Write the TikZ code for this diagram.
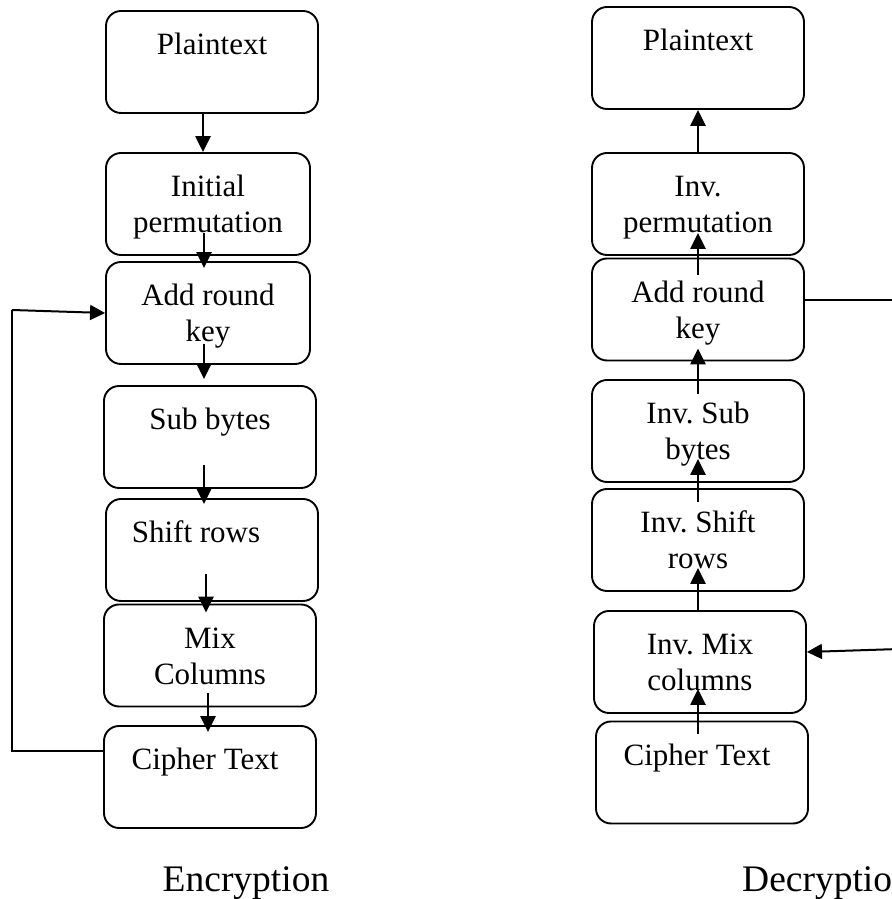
\documentclass[tikz,border=0pt]{standalone}
\usepackage{fontspec}
\setmainfont{Liberation Serif}
\usetikzlibrary{arrows.meta}
\frenchspacing
\newcommand{\stagetxt}[1]{\parbox[c][102pt][t]{200pt}{\centering\rule{0pt}{44pt}#1}}

\begin{document}
\begin{tikzpicture}[x=1pt,y=1pt,
		stagebox/.style={draw, line width=1.9pt, rounded corners=15pt, inner sep=0pt,
			minimum height=102pt, minimum width=212pt, font=\fontsize{31}{36}\selectfont},
		flow/.style={line width=2.5pt, -{Triangle[length=16pt,width=15pt]}},
		feed/.style={line width=2pt},
		caption/.style={inner sep=0pt, font=\fontsize{37.5}{45}\selectfont}]
		\useasboundingbox (0,0) rectangle (891,899);
		% encryption
		\node [stagebox] (pl) at (212,837) {\stagetxt{Plaintext}};
		\node [stagebox, minimum width=204pt] (init) at (208,695) {\stagetxt{Initial\\permutation}};
		\node [stagebox, minimum width=204pt] (add) at (208,586) {\stagetxt{Add round\\key}};
		\node [stagebox] (sub) at (210,462) {\stagetxt{Sub bytes}};
		\node [stagebox] (shift) at (212,349) {\stagetxt{Shift rows\hspace*{32pt}}};
		\node [stagebox] (mix) at (210,243.5) {\stagetxt{Mix\\Columns}};
		\node [stagebox] (ciph) at (210,122) {\stagetxt{Cipher Text\hspace*{10pt}}};
		\node [caption, anchor=base] (enc) at (246,7) {Encryption};
		\draw [flow] ([xshift=-9pt]pl.south) -- ([xshift=-5pt]init.north);
		\draw [flow] ([xshift=-4pt,yshift=23pt]init.south) -- ([xshift=-4pt,yshift=-7pt]add.north);
		\draw [flow] ([xshift=-4pt,yshift=21pt]add.south) -- ([xshift=-6pt,yshift=6pt]sub.north);
		\draw [flow] ([xshift=-6pt,yshift=24pt]sub.south) -- ([xshift=-8pt,yshift=-6pt]shift.north);
		\draw [flow] ([xshift=-6pt,yshift=28pt]shift.south) -- ([xshift=-4pt,yshift=-9pt]mix.north);
		\draw [flow] ([xshift=-2pt,yshift=14pt]mix.south) -- ([xshift=-2pt,yshift=-7pt]ciph.north);
		\coordinate (loopL) at (12,589);
		\draw [feed] ([yshift=26pt]ciph.west) -| (loopL);
		\draw [feed, -{Triangle[length=15pt,width=15pt]}] (loopL) -- (add.west);
		% decryption
		\node [stagebox] (plR) at (698,841) {\stagetxt{Plaintext}};
		\node [stagebox] (permR) at (698,695) {\stagetxt{Inv.\\permutation}};
		\node [stagebox] (addR) at (698,589.5) {\stagetxt{Add round\\key}};
		\node [stagebox] (subR) at (698,468) {\stagetxt{Inv. Sub\\bytes}};
		\node [stagebox] (shiftR) at (698,359) {\stagetxt{Inv. Shift\\rows}};
		\node [stagebox] (mixR) at (700,237) {\stagetxt{Inv. Mix\\columns}};
		\node [stagebox] (ciphR) at (702,126.5) {\stagetxt{Cipher Text\hspace*{10pt}}};
		\node [caption, anchor=base west] (dec) at (742,7) {Decryption};
		\draw [flow] (permR.north) -- (plR.south);
		\draw [flow] ([yshift=-17pt]addR.north) -- ([yshift=23pt]permR.south);
		\draw [flow] ([yshift=-15pt]subR.north) -- ([yshift=13pt]addR.south);
		\draw [flow] ([yshift=-14pt]shiftR.north) -- ([yshift=24pt]subR.south);
		\draw [flow] ([xshift=-2pt]mixR.north) -- ([yshift=24pt]shiftR.south);
		\draw [flow] ([xshift=-4pt,yshift=-13pt]ciphR.north) -- ([xshift=-2pt,yshift=25pt]mixR.south);
		\coordinate (loopR1) at (930,599);
		\coordinate (loopR2) at (930,251);
		\draw [feed] ([yshift=9.5pt]addR.east) -- (loopR1) -- (loopR2);
		\draw [feed, -{Triangle[length=15pt,width=15pt]}] (loopR2) -- ([yshift=10pt]mixR.east);
	\end{tikzpicture}
\end{document}
